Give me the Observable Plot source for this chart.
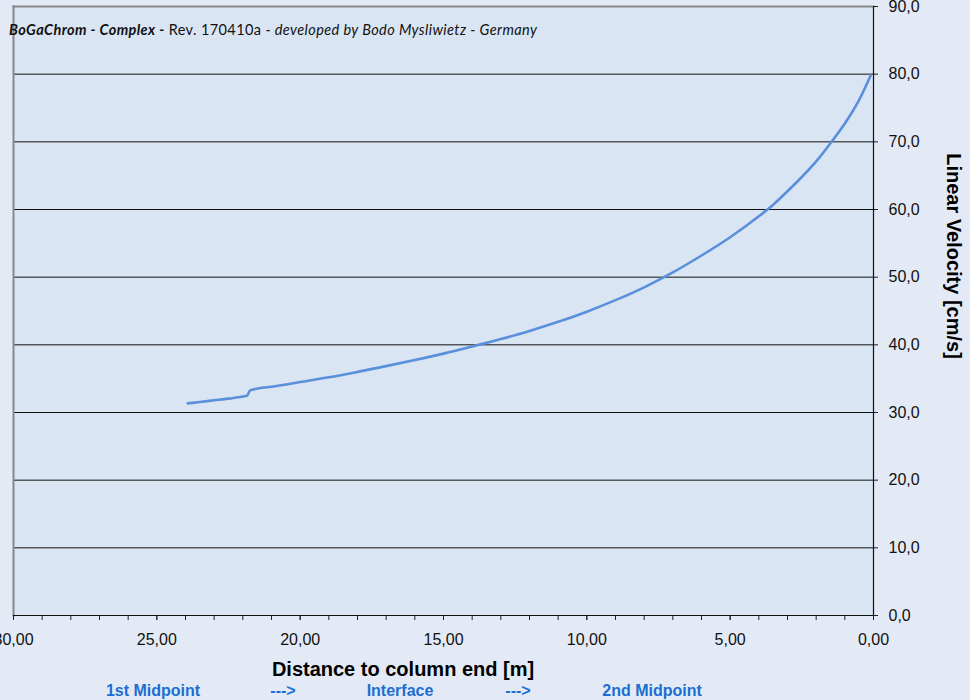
<!DOCTYPE html>
<html>
<head>
<meta charset="utf-8">
<script src="https://cdn.jsdelivr.net/npm/d3@7"></script>
<script src="https://cdn.jsdelivr.net/npm/@observablehq/plot@0.6"></script>
<style>
  html, body { margin: 0; padding: 0; background: #E3EAF6; width: 970px; height: 700px; overflow: hidden; }
  #wrap { position: relative; width: 970px; height: 700px; font-family: "Liberation Sans", Arial, sans-serif; }
  #chart { position: absolute; left: 0; top: 0; }
  .lbl { position: absolute; white-space: nowrap; }
  .blue { color: #1B6ED2; font-weight: bold; font-size: 16px; top: 682px; transform: translateX(-50%); }
</style>
</head>
<body>
<div id="wrap">
  <div id="chart"></div>
  <div class="lbl" style="left:9px; top:21px; font-family: Lato, 'Open Sans', sans-serif; font-size:14.5px; letter-spacing:0.4px; color:#111;"><b><i>BoGaChrom - Complex -</i></b> Rev. 170410a <i>- developed by Bodo Mysliwietz - Germany</i></div>
  <div class="lbl" style="left:403px; top:658px; transform: translateX(-50%); font-weight:bold; font-size:20px; color:#000;">Distance to column end [m]</div>
  <div class="lbl" style="left:953px; top:256px; transform: translate(-50%,-50%) rotate(90deg); font-weight:bold; font-size:20px; color:#000;">Linear Velocity [cm/s]</div>
  <div class="lbl blue" style="left:153px;">1st Midpoint</div>
  <div class="lbl blue" style="left:283px;">---&gt;</div>
  <div class="lbl blue" style="left:400px;">Interface</div>
  <div class="lbl blue" style="left:518px;">---&gt;</div>
  <div class="lbl blue" style="left:652px;">2nd Midpoint</div>
</div>
<script>
// Distance to column end [m]
const distance = [23.92, 23.5, 23.0, 22.5, 22.1, 21.95, 21.85, 21.75, 21.6, 21.0, 20.0, 19.0, 18.0, 17.0, 16.0, 15.0, 14.0, 13.0, 12.0, 11.0, 10.0, 9.0, 8.0, 7.0, 6.0, 5.0, 4.0, 3.5, 3.0, 2.5, 2.0, 1.5, 1.0, 0.5, 0.1];
// Linear velocity [cm/s]
const velocity = [31.35, 31.55, 31.8, 32.05, 32.3, 32.4, 32.5, 33.25, 33.45, 33.8, 34.5, 35.2, 36.0, 36.85, 37.75, 38.7, 39.75, 40.85, 42.05, 43.4, 44.9, 46.6, 48.5, 50.7, 53.2, 55.9, 59.0, 60.7, 62.7, 64.8, 67.1, 69.8, 72.7, 76.2, 79.8];

const xMajorTicks = [30, 25, 20, 15, 10, 5, 0];
const xMinorTicks = d3.range(0, 31);
const yTicks = [0, 10, 20, 30, 40, 50, 60, 70, 80, 90];
const yGrid = [10, 20, 30, 40, 50, 60, 70, 80];

const data = distance.map((d, i) => ({d, v: velocity[i]}));
const comma = (n, k) => n.toFixed(k).replace(".", ",");

const chart = Plot.plot({
  width: 970,
  height: 700,
  marginLeft: 13,
  marginRight: 97,
  marginTop: 6,
  marginBottom: 85,
  style: {fontFamily: "'Liberation Sans', Arial, sans-serif", background: "transparent", color: "#111", overflow: "visible"},
  x: {domain: [30, 0], label: null},
  y: {domain: [0, 90], label: null},
  marks: [
    Plot.frame({fill: "#DAE5F4", stroke: null}),
    Plot.gridY(yGrid, {stroke: "#111", strokeOpacity: 1, strokeWidth: 1}),
    Plot.frame({anchor: "left", stroke: "#888", strokeWidth: 2}),
    Plot.frame({anchor: "top", stroke: "#888", strokeWidth: 2}),
    Plot.axisX(xMinorTicks, {tickSize: 5, tickFormat: () => "", stroke: "#222"}),
    Plot.axisX(xMajorTicks, {tickSize: 5, tickPadding: 13, fontSize: 16, tickFormat: d => comma(d, 2), stroke: "#222"}),
    Plot.axisY(yTicks, {anchor: "right", tickSize: 4, tickPadding: 11, fontSize: 16, tickFormat: d => comma(d, 1), stroke: "#222"}),
    Plot.ruleY([0], {stroke: "#111", strokeWidth: 1.2}),
    Plot.ruleX([0], {stroke: "#111", strokeWidth: 1.2}),
    Plot.line(data, {x: "d", y: "v", stroke: "#5A8FDB", strokeWidth: 2.6, strokeLinejoin: "round", curve: "monotone-x"})
  ]
});
document.getElementById("chart").appendChild(chart);
</script>
</body>
</html>
